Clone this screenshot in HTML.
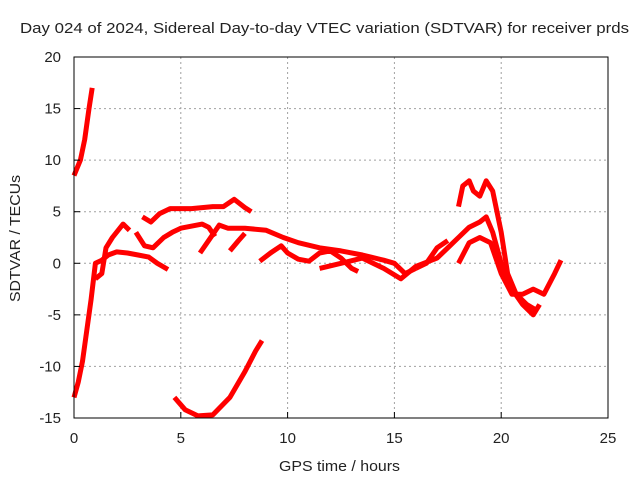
<!DOCTYPE html>
<html><head><meta charset="utf-8"><style>
body{margin:0;background:#fff;}
svg text{font-family:"Liberation Sans",sans-serif;fill:#222;}
</style></head><body>
<svg id="chart" width="640" height="480" xmlns="http://www.w3.org/2000/svg">
<text x="20" y="33" font-size="15" textLength="609" lengthAdjust="spacingAndGlyphs">Day 024 of 2024, Sidereal Day-to-day VTEC variation (SDTVAR) for receiver prds</text>
<text x="279" y="471" font-size="15" textLength="121" lengthAdjust="spacingAndGlyphs">GPS time / hours</text>
<text transform="translate(20,302) rotate(-90)" font-size="15" textLength="127" lengthAdjust="spacingAndGlyphs">SDTVAR / TECUs</text>
<g id="grid"></g>
<g id="marks"></g>
<rect x="74" y="57" width="534" height="361" fill="none" stroke="#000" stroke-width="1"/>
<g id="ticks"></g>
</svg>
<script>
const xTicks=[0,5,10,15,20,25];
const yTicks=[-15,-10,-5,0,5,10,15,20];
const track1=[[0,-13],[0.2,-11.5],[0.4,-9.5],[0.6,-6.5],[0.8,-3.5],[1.0,0],[1.3,0.3],[1.6,0.8],[2,1.1],[2.5,1],[3,0.8],[3.5,0.6],[3.9,0],[4.4,-0.6]];
const track2=[[0,8.5],[0.3,10],[0.5,12],[0.7,15],[0.85,17]];
const track3=[[3.2,4.5],[3.6,4],[4,4.8],[4.5,5.3],[5.5,5.3],[6.5,5.5],[7,5.5],[7.5,6.2],[8,5.4],[8.3,5]];
const track4=[[4.7,-13],[5.2,-14.2],[5.8,-14.8],[6.5,-14.7],[7.3,-13],[8,-10.5],[8.5,-8.5],[8.8,-7.5]];
const track5=[[1,-1.5],[1.3,-1],[1.5,1.5],[1.8,2.5],[2.3,3.8],[2.6,3.2]];
const track6=[[2.9,3],[3.3,1.7],[3.7,1.5],[4.2,2.5],[4.6,3],[5,3.4],[6,3.8],[6.3,3.5],[6.6,2.6]];
const track7=[[5.9,1],[6.3,2.2],[6.8,3.7],[7.2,3.4],[8,3.4],[9,3.2],[9.8,2.5],[10.5,2],[11.5,1.5],[12.5,1.2],[13.5,0.8],[14.5,0.3],[15,0],[15.5,-1],[16,-0.5]];
const track8=[[7.3,1.2],[7.7,2.2],[8,2.9]];
const track9=[[8.7,0.2],[9.2,1],[9.7,1.7],[10,1],[10.5,0.4],[11,0.2],[11.5,1],[12,1.2],[12.5,0.5],[13,-0.5],[13.3,-0.8]];
const track10=[[11.5,-0.5],[12.5,0],[13.5,0.5],[14.5,-0.5],[15.3,-1.5],[16,-0.3],[17,0.5],[17.5,1.5],[18,2.5],[18.5,3.5],[19,4],[19.3,4.5],[19.6,3],[20,0],[20.5,-2.5],[21,-4],[21.5,-5],[21.8,-4]];
const track11=[[18,0],[18.5,2],[19,2.5],[19.5,2],[20,-1],[20.5,-3],[21,-3],[21.5,-2.5],[22,-3],[22.5,-1],[22.8,0.3]];
const track12=[[18,5.5],[18.2,7.5],[18.5,8],[18.7,7],[19,6.5],[19.3,8],[19.6,7],[20,3],[20.3,-1],[20.7,-3],[21.2,-4],[21.6,-4.5]];
const track13=[[16,-0.5],[16.5,0],[17,1.5],[17.5,2.2]];
const tracks=[track1,track2,track3,track4,track5,track6,track7,track8,track9,track10,track11,track12,track13];
const X0=74,X1=608,Y0=418,Y1=57;
function sx(v){return X0+(v-0)/(25-0)*(X1-X0);}
function sy(v){return Y0-(v+15)/(20+15)*(Y0-Y1);}
const NS="http://www.w3.org/2000/svg";
const grid=document.getElementById('grid'),ticks=document.getElementById('ticks'),marks=document.getElementById('marks');
function mk(tag,attrs,parent){const e=document.createElementNS(NS,tag);for(const k in attrs)e.setAttribute(k,attrs[k]);parent.appendChild(e);return e;}
xTicks.forEach(t=>{const x=sx(t);
 if(t>0&&t<25){const g=mk('line',{x1:x,x2:x,y1:Y1,y2:Y0,stroke:'#a0a0a0','stroke-dasharray':'2,3'},grid);
 
 }
 const l=mk('line',{x1:x,x2:x,y1:Y0,y2:Y0-6,stroke:'#000'},ticks);
 
 const tx=mk('text',{x:x,y:443,'font-size':15,'text-anchor':'middle'},ticks);tx.textContent=t;
 
 });
yTicks.forEach(t=>{const y=sy(t);
 if(t>-15&&t<20){const g=mk('line',{x1:X0,x2:X1,y1:y,y2:y,stroke:'#a0a0a0','stroke-dasharray':'2,3'},grid);
 
 }
 const l=mk('line',{x1:X0,x2:X0+6,y1:y,y2:y,stroke:'#000'},ticks);
 
 const tx=mk('text',{x:61,y:y+5,'font-size':15,'text-anchor':'end'},ticks);tx.textContent=t;
 
 });
tracks.forEach((tr,i)=>{const d=tr.map((p,j)=>(j?'L':'M')+sx(p[0]).toFixed(1)+','+sy(p[1]).toFixed(1)).join(' ');
 const p=mk('path',{d:d,fill:'none',stroke:'#f00','stroke-width':5,'stroke-linejoin':'round','stroke-linecap':'butt'},marks);
 
 });
</script>
</body></html>
